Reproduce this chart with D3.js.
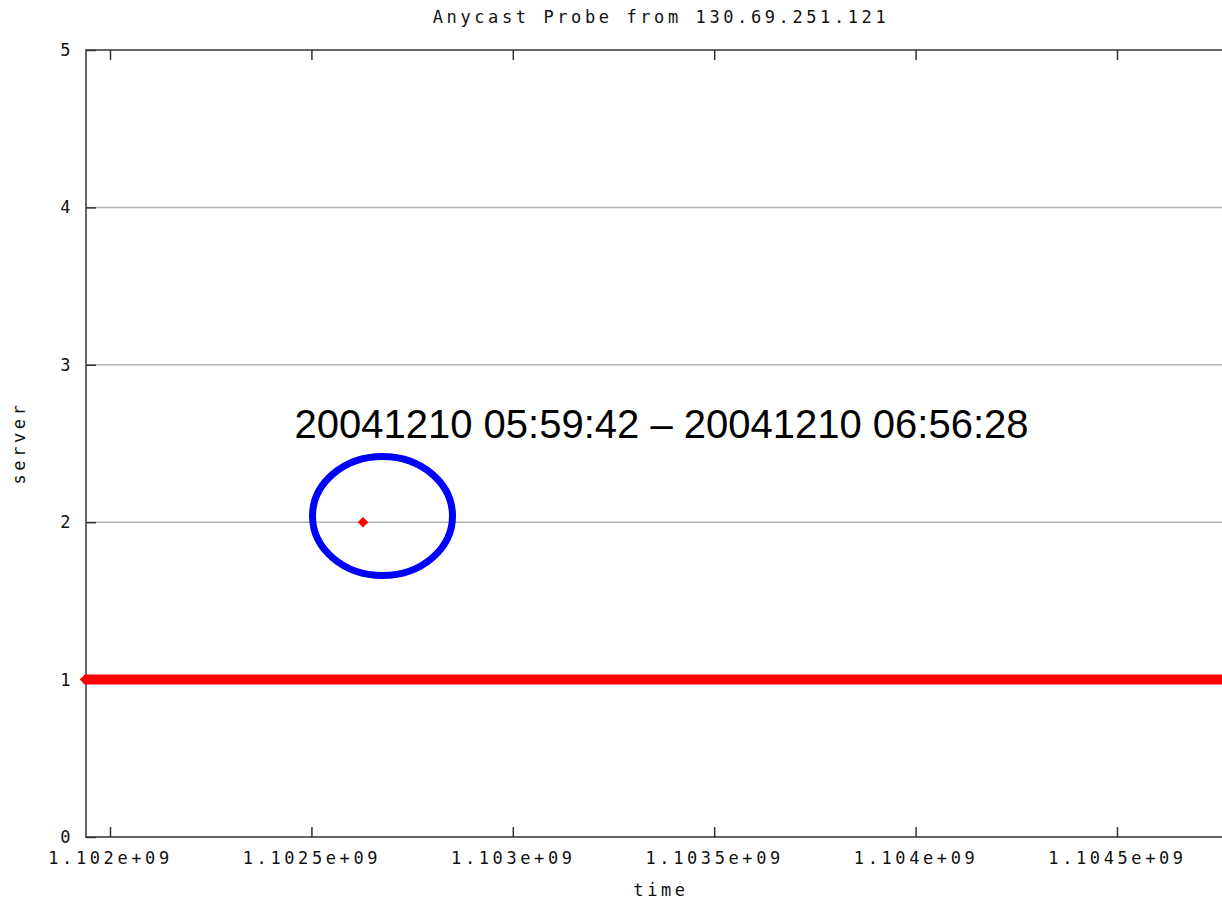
<!DOCTYPE html>
<meta charset="utf-8">
<style>
body { margin: 0; background: #fff; }
.pix { font-family: "DejaVu Sans Mono", monospace; font-size: 17px; letter-spacing: 3.6px; fill: #111; }
</style>
<svg width="1222" height="900"></svg>
<script src="https://d3js.org/d3.v7.min.js"></script>
<script>

var title = "Anycast Probe from 130.69.251.121",
    xLabel = "time",
    yLabel = "server",
    note = "20041210 05:59:42 \u2013 20041210 06:56:28";

var xTicks = [1.102e9, 1.1025e9, 1.103e9, 1.1035e9, 1.104e9, 1.1045e9],
    xTickLabels = ["1.102e+09", "1.1025e+09", "1.103e+09", "1.1035e+09", "1.104e+09", "1.1045e+09"],
    yTicks = [0, 1, 2, 3, 4, 5];

// server 1 holds for the whole window, one probe hit server 2
var serverOne = [[1101938000, 1], [1104805400, 1]],
    serverTwo = [[1102628100, 2]];

// highlighted area (centre, radii in data units)
var ring = {t: 1102676500, v: 2.039, dt: 173800, dv: 0.378};

var svg = d3.select("svg"),
    margin = {top: 50, right: -18, bottom: 63, left: 86},
    width = +svg.attr("width") - margin.left - margin.right,
    height = +svg.attr("height") - margin.top - margin.bottom;

var x = d3.scaleLinear().domain([1101940400, 1104805400]).range([0, width]);
var y = d3.scaleLinear().domain([0, 5]).range([height, 0]);

var g = svg.append("g")
    .attr("transform", "translate(" + margin.left + "," + margin.top + ")");

// grid lines
g.append("g")
    .selectAll("line")
    .data(yTicks.filter(function(d) { return d > 0 && d < 5; }))
  .enter().append("line")
    .attr("x1", 0)
    .attr("x2", width)
    .attr("y1", function(d) { return y(d); })
    .attr("y2", function(d) { return y(d); })
    .attr("stroke", "#b4b4b4")
    .attr("stroke-width", 1.5);

// frame
g.append("path")
    .attr("d", "M" + width + ",0H0V" + height + "H" + width)
    .attr("fill", "none")
    .attr("stroke", "#333")
    .attr("stroke-width", 1.5);

var xAxis = d3.axisBottom(x).tickValues(xTicks).tickSize(-10)
    .tickFormat(function(d, i) { return xTickLabels[i]; });

g.append("g")
    .attr("class", "axis axis--x")
    .attr("transform", "translate(0," + height + ")")
    .call(xAxis)
    .call(function(a) {
      a.select(".domain").remove();
      a.selectAll("line").attr("stroke", "#333").attr("stroke-width", 1.5);
      a.selectAll("text").attr("class", "pix").attr("fill", null)
          .attr("y", 15).attr("dy", "0.71em");
    });

g.append("g")
    .attr("class", "axis axis--x2")
    .call(d3.axisTop(x).tickValues(xTicks).tickSize(-10).tickFormat(""))
    .call(function(a) {
      a.select(".domain").remove();
      a.selectAll("line").attr("stroke", "#333").attr("stroke-width", 1.5);
    });

g.append("g")
    .attr("class", "axis axis--y")
    .call(d3.axisLeft(y).tickValues(yTicks).tickSize(-10).tickFormat(d3.format("d")))
    .call(function(a) {
      a.select(".domain").remove();
      a.selectAll("line").attr("stroke", "#333").attr("stroke-width", 1.5);
      a.selectAll("text").attr("class", "pix").attr("fill", null)
          .attr("x", -12);
    });

// data
var diamond = d3.symbol().type(d3.symbolSquare).size(56);

g.append("path")
    .datum(serverOne)
    .attr("fill", "none")
    .attr("stroke", "#ff0000")
    .attr("stroke-width", 10)
    .attr("d", d3.line()
        .x(function(d) { return x(d[0]); })
        .y(function(d) { return y(d[1]); }));

g.append("g")
    .selectAll("path")
    .data(serverOne.slice(0, 1).concat(serverTwo))
  .enter().append("path")
    .attr("fill", "#ff0000")
    .attr("transform", function(d) { return "translate(" + x(d[0]) + "," + y(d[1]) + ")rotate(45)"; })
    .attr("d", diamond);

// annotation
g.append("ellipse")
    .attr("cx", x(ring.t))
    .attr("cy", y(ring.v))
    .attr("rx", x(ring.t + ring.dt) - x(ring.t))
    .attr("ry", y(ring.v - ring.dv) - y(ring.v))
    .attr("fill", "none")
    .attr("stroke", "#0000ff")
    .attr("stroke-width", 7);

g.append("text")
    .attr("x", x(ring.t) - 88)
    .attr("y", y(ring.v) - 78)
    .attr("font-family", "'Liberation Sans', Arial, sans-serif")
    .attr("font-size", 40)
    .text(note);

// titles
svg.append("text")
    .attr("class", "pix")
    .attr("x", 661)
    .attr("y", 23)
    .attr("text-anchor", "middle")
    .text(title);

svg.append("text")
    .attr("class", "pix")
    .attr("x", 661)
    .attr("y", 896)
    .attr("text-anchor", "middle")
    .text(xLabel);

svg.append("text")
    .attr("class", "pix")
    .attr("transform", "translate(25,443)rotate(-90)")
    .attr("text-anchor", "middle")
    .text(yLabel);

</script>
